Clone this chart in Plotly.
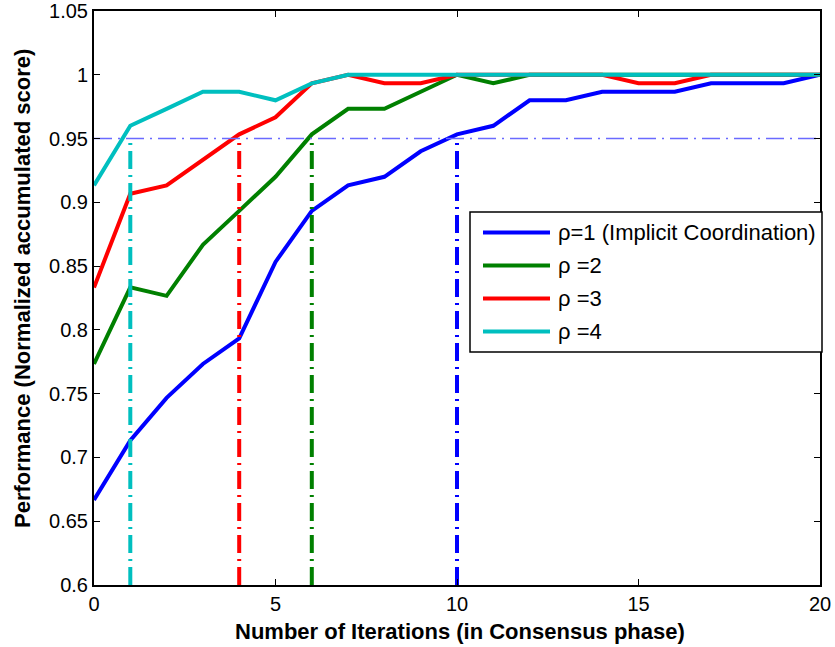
import plotly.graph_objects as go

# Consensus iterations and normalized accumulated scores per rho
iterations = list(range(21))
rho1 = [0.6667, 0.7133, 0.7467, 0.7733, 0.7933, 0.8533, 0.8933, 0.9133, 0.9200, 0.9400,
        0.9533, 0.9600, 0.9800, 0.9800, 0.9867, 0.9867, 0.9867, 0.9933, 0.9933, 0.9933, 1.0]
rho2 = [0.7733, 0.8333, 0.8267, 0.8667, 0.8933, 0.9200, 0.9533, 0.9733, 0.9733, 0.9867,
        1.0, 0.9933, 1.0, 1.0, 1.0, 1.0, 1.0, 1.0, 1.0, 1.0, 1.0]
rho3 = [0.8333, 0.9067, 0.9133, 0.9333, 0.9533, 0.9667, 0.9933, 1.0, 0.9933, 0.9933,
        1.0, 1.0, 1.0, 1.0, 1.0, 0.9933, 0.9933, 1.0, 1.0, 1.0, 1.0]
rho4 = [0.9133, 0.9600, 0.9733, 0.9867, 0.9867, 0.9800, 0.9933, 1.0, 1.0, 1.0,
        1.0, 1.0, 1.0, 1.0, 1.0, 1.0, 1.0, 1.0, 1.0, 1.0, 1.0]

series_names = ["ρ=1 (Implicit Coordination)", "ρ =2", "ρ =3", "ρ =4"]
series_colors = ["#0000ff", "#008000", "#ff0000", "#00bfbf"]
series_values = [rho1, rho2, rho3, rho4]

# Iteration at which each curve first reaches the threshold
threshold = 0.95
crossing_iters = [10, 6, 4, 1]

y_ticks = [0.6, 0.65, 0.7, 0.75, 0.8, 0.85, 0.9, 0.95, 1.0, 1.05]
y_tick_text = ["0.6", "0.65", "0.7", "0.75", "0.8", "0.85", "0.9", "0.95", "1", "1.05"]
x_ticks = [0, 5, 10, 15, 20]

x_title = "Number of Iterations (in Consensus phase)"
y_title = "Performance (Normalized accumulated score)"

FONT = "Liberation Sans, Arial, Helvetica, sans-serif"
DASHDOT = "18px,6px,2px,6px"

W, H = 835, 647
ML, MR, MT, MB = 94, 15, 11, 62
PW, PH = W - ML - MR, H - MT - MB


def px_x(x):
    """Pixel column -> paper x."""
    return (x - ML) / PW


def px_y(y):
    """Pixel row -> paper y."""
    return (H - MB - y) / PH


fig = go.Figure()

for name, color, vals in zip(series_names, series_colors, series_values):
    fig.add_trace(go.Scatter(
        x=iterations, y=vals, mode="lines", name=name,
        line=dict(color=color, width=4), showlegend=False,
    ))

# vertical drop lines at the threshold crossings
for it, color in zip(crossing_iters, series_colors):
    fig.add_trace(go.Scatter(
        x=[it, it], y=[0.6, threshold], mode="lines", showlegend=False,
        line=dict(color=color, width=4, dash=DASHDOT), hoverinfo="skip",
    ))

# horizontal threshold line
fig.add_trace(go.Scatter(
    x=[0, 20], y=[threshold, threshold], mode="lines", showlegend=False,
    line=dict(color="#6a6aff", width=1.5, dash=DASHDOT), hoverinfo="skip",
))

# legend box with long line samples
shapes = [dict(
    type="rect", xref="paper", yref="paper",
    x0=px_x(470), x1=px_x(822), y0=px_y(352), y1=px_y(212),
    line=dict(color="black", width=1.5), fillcolor="white", layer="above",
)]
annotations = []
row_y = [232.5, 265.5, 298.5, 331.5]
for name, color, ry in zip(series_names, series_colors, row_y):
    shapes.append(dict(
        type="line", xref="paper", yref="paper",
        x0=px_x(483), x1=px_x(550), y0=px_y(ry), y1=px_y(ry),
        line=dict(color=color, width=4), layer="above",
    ))
    annotations.append(dict(
        xref="paper", yref="paper", x=px_x(556), y=px_y(ry),
        xanchor="left", yanchor="middle", showarrow=False, text=name,
        font=dict(family=FONT, size=22, color="black"),
    ))

# axis titles
annotations.append(dict(
    xref="paper", yref="paper", x=px_x(460), y=px_y(631),
    xanchor="center", yanchor="middle", showarrow=False,
    text=f"<b>{x_title}</b>", font=dict(family=FONT, size=22, color="black"),
))
annotations.append(dict(
    xref="paper", yref="paper", x=px_x(22), y=px_y(289),
    xanchor="center", yanchor="middle", showarrow=False, textangle=-90,
    text=f"<b>{y_title}</b>", font=dict(family=FONT, size=22, color="black"),
))

axis_common = dict(
    showline=True, linecolor="black", linewidth=2, mirror="ticks",
    ticks="inside", ticklen=6, tickcolor="black", tickwidth=1,
    showgrid=False, zeroline=False, automargin=False,
    ticklabeloverflow="allow",
    tickfont=dict(family=FONT, size=20, color="black"),
)

fig.update_layout(
    width=W, height=H,
    margin=dict(l=ML, r=MR, t=MT, b=MB),
    paper_bgcolor="white", plot_bgcolor="white",
    showlegend=False,
    shapes=shapes, annotations=annotations,
    xaxis=dict(range=[0, 20], tickvals=x_ticks, **axis_common),
    yaxis=dict(range=[0.6, 1.05], tickvals=y_ticks, ticktext=y_tick_text,
               **axis_common),
)

fig.write_html("out.html")
